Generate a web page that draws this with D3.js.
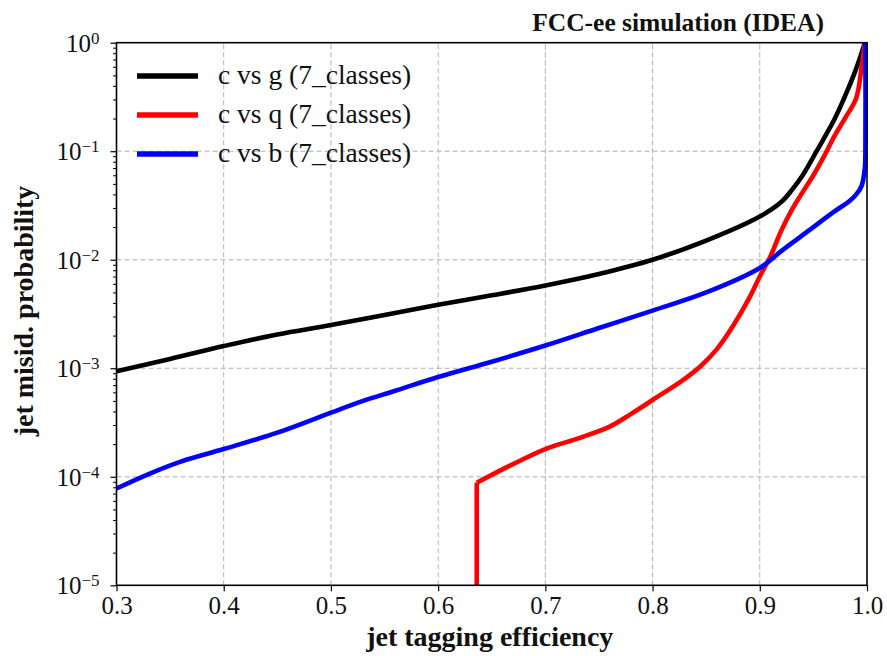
<!DOCTYPE html>
<html>
<head>
<meta charset="utf-8">
<script src="https://cdn.jsdelivr.net/npm/d3@7"></script>
<style>
  html, body { margin: 0; padding: 0; background: #fff; }
  svg { display: block; }
  text { font-family: "Liberation Serif", "Times New Roman", Times, serif; fill: #111; }
</style>
</head>
<body>
<svg id="chart" width="887" height="656"></svg>
<script>
// ROC-style curves: c-jet tagging efficiency vs. background mis-identification
const seriesNames = ["c vs g (7_classes)", "c vs q (7_classes)", "c vs b (7_classes)"];
const seriesColors = ["#000000", "#ff0000", "#0000ff"];

// c vs g
const gEff   = [0.30, 0.35, 0.40, 0.45, 0.50, 0.55, 0.60, 0.65, 0.70, 0.75, 0.80, 0.85, 0.90, 0.92, 0.93, 0.94, 0.953, 0.97, 0.98, 0.99, 0.998];
const gMisid = [9.4e-4, 1.22e-3, 1.6e-3, 2.05e-3, 2.5e-3, 3.1e-3, 3.85e-3, 4.7e-3, 5.8e-3, 7.4e-3, 1.0e-2, 1.5e-2, 2.5e-2, 3.4e-2, 4.4e-2, 6.0e-2, 0.1, 0.2, 0.33, 0.58, 1.0];

// c vs q (the first pair is the vertical edge at the lowest working point)
const qEff   = [0.636, 0.636, 0.66, 0.70, 0.73, 0.76, 0.78, 0.80, 0.83, 0.845, 0.86, 0.875, 0.89, 0.90, 0.91, 0.92, 0.93, 0.94, 0.95, 0.96, 0.97, 0.98, 0.99, 0.995, 0.998];
const qMisid = [1e-6, 8.8e-5, 1.17e-4, 1.8e-4, 2.25e-4, 2.9e-4, 3.8e-4, 5.1e-4, 8.0e-4, 1.05e-3, 1.5e-3, 2.45e-3, 4.4e-3, 7.0e-3, 1.08e-2, 1.85e-2, 2.9e-2, 4.2e-2, 6.0e-2, 9.0e-2, 0.14, 0.205, 0.31, 0.6, 1.0];

// c vs b
const bEff   = [0.30, 0.33, 0.36, 0.40, 0.45, 0.50, 0.53, 0.56, 0.60, 0.65, 0.70, 0.75, 0.80, 0.85, 0.90, 0.92, 0.935, 0.95, 0.97, 0.984, 0.99, 0.995, 0.998, 0.9985, 0.9985];
const bMisid = [7.8e-5, 1.06e-4, 1.38e-4, 1.8e-4, 2.55e-4, 3.9e-4, 5.0e-4, 6.2e-4, 8.3e-4, 1.15e-3, 1.62e-3, 2.35e-3, 3.4e-3, 5.0e-3, 8.4e-3, 1.2e-2, 1.55e-2, 2.0e-2, 2.8e-2, 3.5e-2, 4.0e-2, 4.8e-2, 7.0e-2, 0.1, 1.0];

const xTicks = [0.3, 0.4, 0.5, 0.6, 0.7, 0.8, 0.9, 1.0];
const xTickLabels = ["0.3", "0.4", "0.5", "0.6", "0.7", "0.8", "0.9", "1.0"];
const yExponents = [0, -1, -2, -3, -4, -5];

const W = 887, H = 656;
const margin = { left: 116.5, right: 20, top: 42.7, bottom: 70.7 };
const x0 = margin.left, x1 = W - margin.right;
const y0 = H - margin.bottom, y1 = margin.top;

const svg = d3.select("#chart");

const x = d3.scaleLinear().domain([0.3, 1.0]).range([x0, x1]);
const y = d3.scaleLog().domain([1e-5, 1]).range([y0, y1]);

const yMajor = yExponents.map(e => Math.pow(10, e));
const yMinor = [];
for (let e = -5; e < 0; e++) for (let k = 2; k <= 9; k++) yMinor.push(k * Math.pow(10, e));

// grid
const grid = svg.append("g").attr("stroke", "#b0b0b0").attr("stroke-width", 1).attr("stroke-dasharray", "5,3");
grid.selectAll("line.gx").data(xTicks.slice(1, -1)).join("line")
  .attr("x1", d => x(d)).attr("x2", d => x(d)).attr("y1", y0).attr("y2", y1);
grid.selectAll("line.gy").data(yMajor.filter(v => v > 1e-5 && v < 1)).join("line")
  .attr("x1", x0).attr("x2", x1).attr("y1", d => y(d)).attr("y2", d => y(d));

// curves
svg.append("defs").append("clipPath").attr("id", "plotclip")
  .append("rect").attr("x", x0).attr("y", y1 - 3).attr("width", x1 - x0 + 3).attr("height", y0 - y1 + 3);

const smooth = d3.line().curve(d3.curveCatmullRom.alpha(0.5)).x(d => x(d[0])).y(d => y(d[1]));
const straight = d3.line().x(d => x(d[0])).y(d => y(d[1]));

const gPts = d3.zip(gEff, gMisid);
const qPts = d3.zip(qEff, qMisid);
const bPts = d3.zip(bEff, bMisid);

const curves = svg.append("g").attr("clip-path", "url(#plotclip)")
  .attr("fill", "none").attr("stroke-width", 4.6)
  .attr("stroke-linejoin", "round");

curves.append("path").attr("d", smooth(gPts)).attr("stroke", seriesColors[0]);
// c vs q: sharp vertical edge, then the smooth part of the curve
curves.append("path").attr("d", straight(qPts.slice(0, 2)) + smooth(qPts.slice(1))).attr("stroke", seriesColors[1]);
curves.append("path").attr("d", smooth(bPts)).attr("stroke", seriesColors[2]);

// axes
const xAxis = d3.axisBottom(x).tickValues(xTicks).tickSize(6).tickFormat((d, i) => xTickLabels[i]);
const gx = svg.append("g").attr("transform", `translate(0,${y0})`).call(xAxis);
gx.select(".domain").remove();
gx.selectAll(".tick line").attr("stroke", "#000").attr("stroke-width", 1.2);
gx.selectAll(".tick text")
  .attr("y", 11).attr("dy", "0.71em")
  .style("font-size", "25px").attr("fill", "#222");

const gyMinor = svg.append("g").attr("transform", `translate(${x0},0)`)
  .call(d3.axisLeft(y).tickValues(yMinor).tickSize(3.5).tickFormat(""));
gyMinor.select(".domain").remove();
gyMinor.selectAll(".tick line").attr("stroke", "#000").attr("stroke-width", 1);

const gy = svg.append("g").attr("transform", `translate(${x0},0)`)
  .call(d3.axisLeft(y).tickValues(yMajor).tickSize(6).tickFormat(""));
gy.select(".domain").remove();
gy.selectAll(".tick line").attr("stroke", "#000").attr("stroke-width", 1.2);

// y tick labels as 10^n
const yLab = svg.append("g");
yExponents.forEach(e => {
  const t = yLab.append("text")
    .attr("x", x0 - 17)
    .attr("y", y(Math.pow(10, e)) + 9)
    .attr("text-anchor", "end")
    .style("font-size", "25px")
    .attr("fill", "#222");
  t.append("tspan").text("10");
  t.append("tspan").attr("dy", -8).style("font-size", "17px")
    .text(e === 0 ? "0" : "\u2212" + Math.abs(e));
});

// frame
svg.append("rect").attr("x", x0).attr("y", y1).attr("width", x1 - x0).attr("height", y0 - y1)
  .attr("fill", "none").attr("stroke", "#000").attr("stroke-width", 1.6);

// axis titles
svg.append("text")
  .attr("x", (x0 + x1) / 2 - 2).attr("y", 646)
  .attr("text-anchor", "middle")
  .style("font-size", "28px").style("font-weight", "bold")
  .text("jet tagging efficiency");

svg.append("text")
  .attr("transform", `translate(33,${(y0 + y1) / 2 - 3}) rotate(-90)`)
  .attr("text-anchor", "middle")
  .style("font-size", "28px").style("font-weight", "bold")
  .text("jet misid. probability");

svg.append("text")
  .attr("x", 824).attr("y", 31)
  .attr("text-anchor", "end")
  .style("font-size", "25.5px").style("font-weight", "bold")
  .text("FCC-ee simulation (IDEA)");

// legend
const legend = svg.append("g");
seriesNames.forEach((name, i) => {
  const ly = 76 + i * 39;
  legend.append("line")
    .attr("x1", 137).attr("x2", 198).attr("y1", ly).attr("y2", ly)
    .attr("stroke", seriesColors[i]).attr("stroke-width", 5.5);
  legend.append("text")
    .attr("x", 218).attr("y", ly + 8)
    .style("font-size", "27.5px").attr("fill", "#222")
    .text(name);
});
</script>
</body>
</html>
